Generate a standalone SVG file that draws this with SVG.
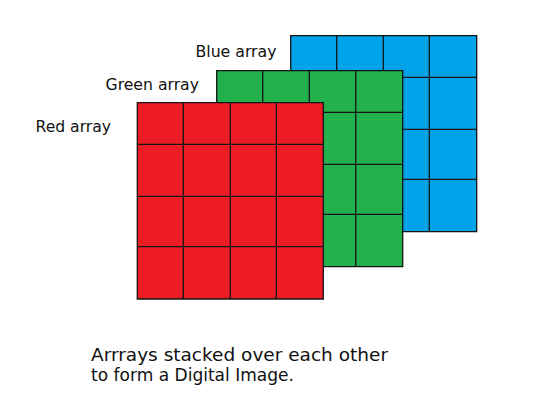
<svg xmlns="http://www.w3.org/2000/svg" width="544" height="407" viewBox="0 0 544 407">
<style>
.grid{stroke:#141414;stroke-width:1.3;fill:none}
.lbl{font-family:"DejaVu Sans","Liberation Sans",sans-serif;font-size:15.5px;fill:#111}
.cap{font-family:"DejaVu Sans","Liberation Sans",sans-serif;font-size:17px;fill:#111}
</style>
<rect width="544" height="407" fill="#fff"/>
<g id="blue-array">
<rect x="290.7" y="35.7" width="186" height="196" fill="#00a2e8"/>
<path class="grid" d="M290.7 35.7H476.7V231.7H290.7Z M336.7 35.7V231.7 M383.3 35.7V231.7 M429.3 35.7V231.7 M290.7 77.3H476.7 M290.7 129.3H476.7 M290.7 179.3H476.7"/>
<text class="lbl" x="195.5" y="56.5" textLength="81" lengthAdjust="spacingAndGlyphs">Blue array</text>
</g>
<g id="green-array">
<rect x="216.7" y="70.7" width="186" height="196" fill="#22b14c"/>
<path class="grid" d="M216.7 70.7H402.7V266.7H216.7Z M262.7 70.7V266.7 M309.3 70.7V266.7 M355.7 70.7V266.7 M216.7 112.3H402.7 M216.7 164.3H402.7 M216.7 214.3H402.7"/>
<text class="lbl" x="105.5" y="90" textLength="93.5" lengthAdjust="spacingAndGlyphs">Green array</text>
</g>
<g id="red-array">
<rect x="137.3" y="102.7" width="186" height="196.3" fill="#ed1c24"/>
<path class="grid" d="M137.3 102.7H323.3V299H137.3Z M183.3 102.7V299 M230.3 102.7V299 M276.3 102.7V299 M137.3 144.3H323.3 M137.3 196.3H323.3 M137.3 246.7H323.3"/>
<text class="lbl" x="35.5" y="131.5" textLength="75.5" lengthAdjust="spacingAndGlyphs">Red array</text>
</g>
<g id="caption">
<text class="cap" x="91" y="360.5" textLength="297" lengthAdjust="spacingAndGlyphs">Arrrays stacked over each other</text>
<text class="cap" x="91" y="380.5" textLength="203" lengthAdjust="spacingAndGlyphs">to form a Digital Image.</text>
</g>
<g id="connectors"/>
</svg>
